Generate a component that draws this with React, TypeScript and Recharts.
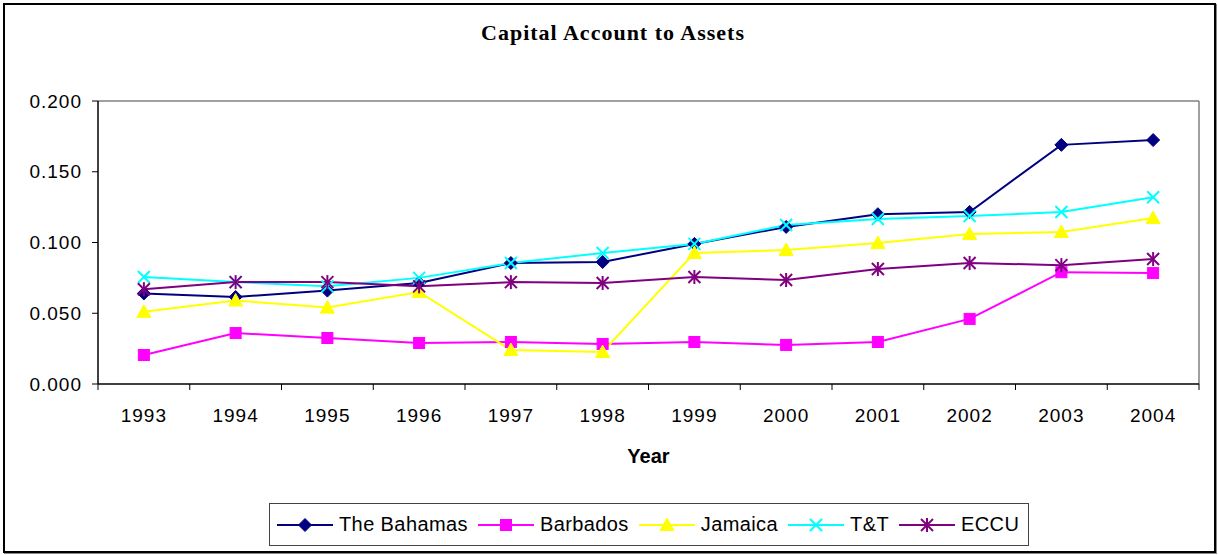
import React from 'react';
import { LineChart, Line, XAxis, YAxis, ReferenceLine } from 'recharts';

const years = [1993, 1994, 1995, 1996, 1997, 1998, 1999, 2000, 2001, 2002, 2003, 2004];
const bahamas = [0.064, 0.0615, 0.066, 0.0714, 0.0855, 0.0862, 0.099, 0.111, 0.12, 0.1216, 0.169, 0.1724];
const barbados = [0.0205, 0.036, 0.0325, 0.029, 0.0297, 0.0283, 0.0297, 0.0276, 0.0297, 0.046, 0.079, 0.0784];
const jamaica = [0.051, 0.059, 0.054, 0.065, 0.024, 0.0226, 0.0926, 0.0947, 0.0996, 0.106, 0.1074, 0.1173];
const tt = [0.0756, 0.072, 0.069, 0.075, 0.0855, 0.0926, 0.099, 0.1124, 0.1166, 0.1187, 0.1216, 0.132];
const eccu = [0.067, 0.072, 0.072, 0.069, 0.072, 0.0714, 0.0756, 0.0735, 0.0813, 0.0855, 0.084, 0.0883];
const yTicks = [0, 0.05, 0.1, 0.15, 0.2];
const xBoundaries = [1992.5, 1993.5, 1994.5, 1995.5, 1996.5, 1997.5, 1998.5, 1999.5, 2000.5, 2001.5, 2002.5, 2003.5, 2004.5];

const data = years.map((y, i) => ({
  year: y,
  bahamas: bahamas[i],
  barbados: barbados[i],
  jamaica: jamaica[i],
  tt: tt[i],
  eccu: eccu[i],
}));

type Shape = 'diamond' | 'square' | 'triangle' | 'x' | 'star';

const series: { key: string; name: string; color: string; shape: Shape }[] = [
  { key: 'bahamas', name: 'The Bahamas', color: '#000080', shape: 'diamond' },
  { key: 'barbados', name: 'Barbados', color: '#FF00FF', shape: 'square' },
  { key: 'jamaica', name: 'Jamaica', color: '#FFFF00', shape: 'triangle' },
  { key: 'tt', name: 'T&T', color: '#00FFFF', shape: 'x' },
  { key: 'eccu', name: 'ECCU', color: '#800080', shape: 'star' },
];

function marker(shape: Shape, cx: number, cy: number, color: string, key?: any) {
  switch (shape) {
    case 'diamond':
      return <polygon key={key} points={`${cx},${cy - 6.5} ${cx + 6.5},${cy} ${cx},${cy + 6.5} ${cx - 6.5},${cy}`} fill={color} stroke={color} strokeWidth={1} />;
    case 'square':
      return <rect key={key} x={cx - 5.5} y={cy - 5.5} width={11} height={11} fill={color} stroke={color} strokeWidth={1} />;
    case 'triangle':
      return <polygon key={key} points={`${cx},${cy - 7} ${cx + 7},${cy + 5.5} ${cx - 7},${cy + 5.5}`} fill={color} stroke={color} strokeWidth={1} />;
    case 'x':
      return (
        <g key={key} stroke={color} strokeWidth={2}>
          <line x1={cx - 6} y1={cy - 6} x2={cx + 6} y2={cy + 6} />
          <line x1={cx - 6} y1={cy + 6} x2={cx + 6} y2={cy - 6} />
        </g>
      );
    case 'star':
    default:
      return (
        <g key={key} stroke={color} strokeWidth={2}>
          <line x1={cx - 6} y1={cy - 6} x2={cx + 6} y2={cy + 6} />
          <line x1={cx - 6} y1={cy + 6} x2={cx + 6} y2={cy - 6} />
          <line x1={cx} y1={cy - 7} x2={cx} y2={cy + 7} />
        </g>
      );
  }
}

const TICK_SIZE = 6;
const TICK_MARGIN = 19;

const XTick = (props: any) => {
  const { x, y, payload } = props;
  const v = payload.value as number;
  if (Number.isInteger(v)) {
    return (
      <text x={x} y={y} dy="0.71em" textAnchor="middle" fill="#000" fontSize={19} fontFamily="Arial, 'Liberation Sans', sans-serif" letterSpacing={1}>
        {v}
      </text>
    );
  }
  const axisY = y - TICK_MARGIN - TICK_SIZE;
  return <line x1={x} x2={x} y1={axisY} y2={axisY + TICK_SIZE} stroke="#000" strokeWidth={1} />;
};

const xTicks = [...xBoundaries, ...years].sort((a, b) => a - b);

export default function App() {
  return (
    <div style={{ position: 'absolute', left: 0, top: 0, width: 1218, height: 555, background: '#fff', fontFamily: "Arial, 'Liberation Sans', sans-serif" }}>
      <div style={{ position: 'absolute', left: 3, top: 3, width: 1213, height: 550, boxSizing: 'border-box', border: '2px solid #000', boxShadow: '1px 1px 0 #888' }} />
      <div style={{ position: 'absolute', left: 0, top: 20, width: 1226, textAlign: 'center', fontFamily: "'Liberation Serif', 'Times New Roman', serif", fontWeight: 'bold', fontSize: 22, letterSpacing: 1, color: '#000' }}>
        Capital Account to Assets
      </div>
      <div style={{ position: 'absolute', left: 0, top: 0 }}>
        <LineChart width={1218} height={555} data={data} margin={{ top: 101, right: 19, left: 0, bottom: 91 }}>
          <XAxis
            dataKey="year"
            type="number"
            domain={[1992.5, 2004.5]}
            ticks={xTicks}
            interval={0}
            tickLine={false}
            tickSize={TICK_SIZE}
            tickMargin={TICK_MARGIN}
            tick={<XTick />}
            height={80}
            axisLine={{ stroke: '#000', strokeWidth: 1.5 }}
            label={{ value: 'Year', position: 'insideBottom', offset: 1, fontSize: 20, fontWeight: 'bold', fill: '#000', fontFamily: "Arial, 'Liberation Sans', sans-serif" }}
          />
          <YAxis
            type="number"
            domain={[0, 0.2]}
            ticks={yTicks}
            interval={0}
            width={98}
            tickSize={TICK_SIZE}
            tickMargin={10}
            tickFormatter={(v: number) => v.toFixed(3)}
            tick={{ fontSize: 19, fill: '#000', fontFamily: "Arial, 'Liberation Sans', sans-serif", letterSpacing: 1 }}
            tickLine={{ stroke: '#000' }}
            axisLine={{ stroke: '#000', strokeWidth: 1.5 }}
          />
          <ReferenceLine y={0.2} stroke="#808080" strokeWidth={1.5} />
          <ReferenceLine x={2004.5} stroke="#808080" strokeWidth={1.5} />
          {series.map((s) => (
            <Line
              key={s.key}
              dataKey={s.key}
              name={s.name}
              type="linear"
              stroke={s.color}
              strokeWidth={2}
              isAnimationActive={false}
              dot={(p: any) => marker(s.shape, p.cx, p.cy, s.color, `${s.key}-${p.index}`)}
              activeDot={false}
            />
          ))}
        </LineChart>
      </div>
      <div style={{ position: 'absolute', left: 269, top: 503, width: 760, height: 43, boxSizing: 'border-box', border: '1px solid #444', display: 'flex', alignItems: 'center', paddingLeft: 7 }}>
        {series.map((s) => (
          <div key={s.key} style={{ display: 'flex', alignItems: 'center', marginRight: 10 }}>
            <svg width={56} height={20} style={{ display: 'block' }}>
              <line x1={0} y1={10} x2={56} y2={10} stroke={s.color} strokeWidth={2} />
              {marker(s.shape, 28, 10, s.color)}
            </svg>
            <span style={{ fontSize: 20, marginLeft: 6, color: '#000', whiteSpace: 'nowrap', letterSpacing: 0.4 }}>{s.name}</span>
          </div>
        ))}
      </div>
    </div>
  );
}
